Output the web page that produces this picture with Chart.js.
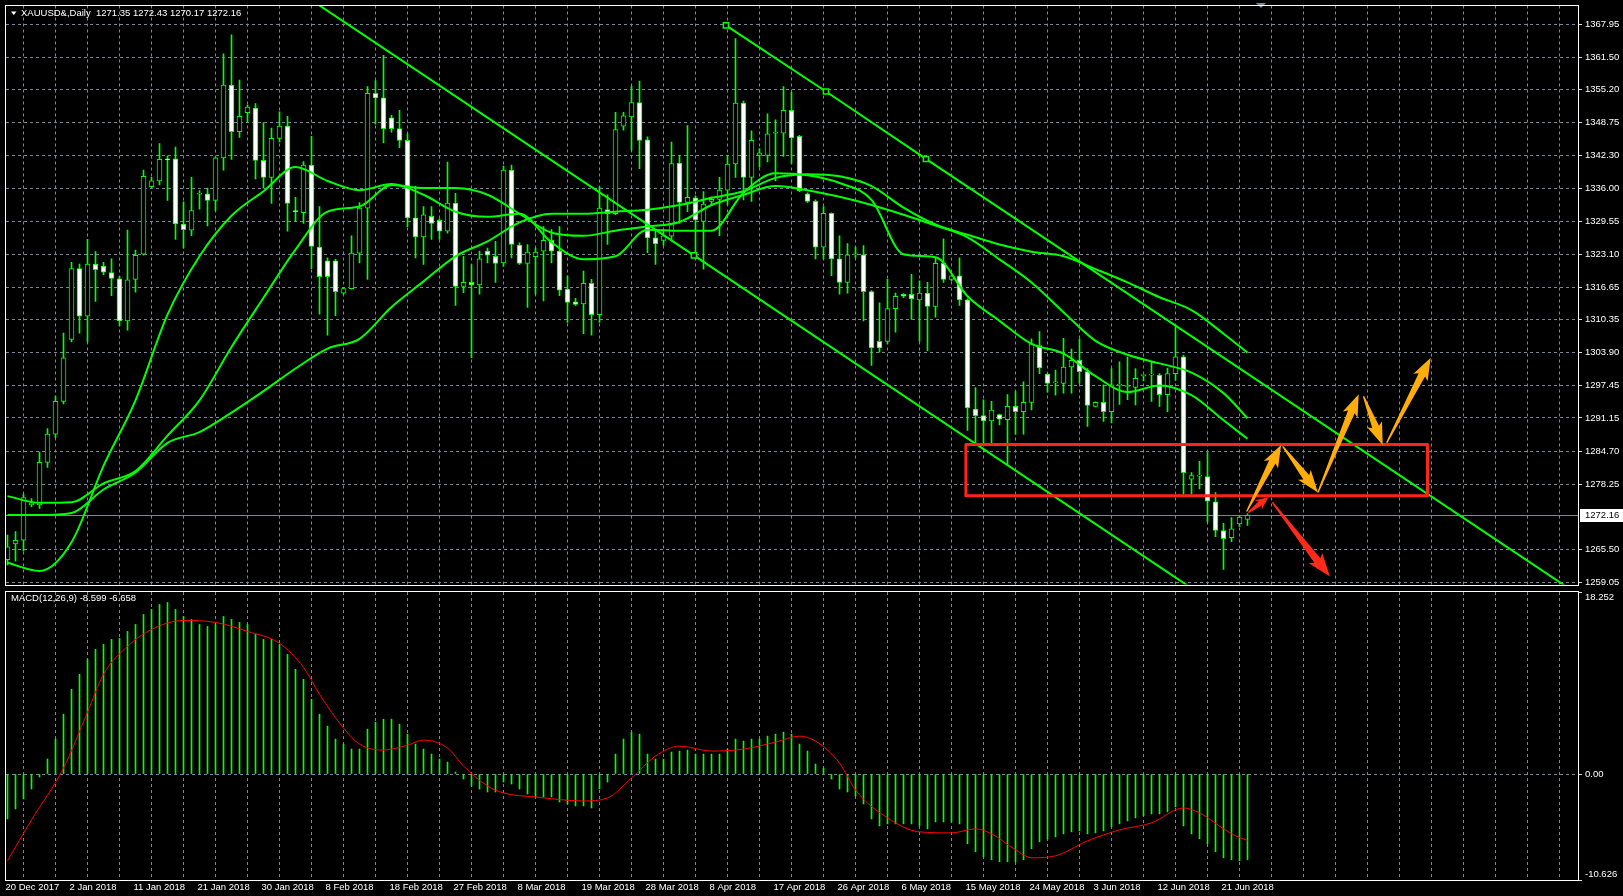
<!DOCTYPE html>
<html>
<head>
<meta charset="utf-8">
<title>XAUUSD&amp;,Daily</title>
<script src="https://cdn.jsdelivr.net/npm/chart.js@4.4.1/dist/chart.umd.min.js"></script>
<style>
  html, body { margin: 0; padding: 0; background: #000; }
  body { width: 1623px; height: 896px; position: relative; overflow: hidden; }
  canvas { position: absolute; left: 0; }
  #price-chart { top: 0; }
  #macd-chart { top: 590px; }
</style>
</head>
<body>
<canvas id="price-chart" width="1623" height="590"></canvas>
<canvas id="macd-chart" width="1623" height="306"></canvas>
<script>
const symbolTitle = "XAUUSD&,Daily";
const lastQuote = [1271.35, 1272.43, 1270.17, 1272.16];
const macdTitle = "MACD(12,26,9)";
const macdLast = [-8.599, -6.658];

// one label every 8 bars, starting at bar 0
const dateLabels = ["20 Dec 2017", "2 Jan 2018", "11 Jan 2018", "21 Jan 2018", "30 Jan 2018",
  "8 Feb 2018", "18 Feb 2018", "27 Feb 2018", "8 Mar 2018", "19 Mar 2018", "28 Mar 2018",
  "8 Apr 2018", "17 Apr 2018", "26 Apr 2018", "6 May 2018", "15 May 2018", "24 May 2018",
  "3 Jun 2018", "12 Jun 2018", "21 Jun 2018"];

const priceTicks = [1367.95, 1361.50, 1355.20, 1348.75, 1342.30, 1336.00, 1329.55, 1323.10,
  1316.65, 1310.35, 1303.90, 1297.45, 1291.15, 1284.70, 1278.25, 1265.50, 1259.05];
const macdTicks = [-10.626, 0, 18.252];

const opens = [1263.5, 1266.6, 1267.3, 1274.2, 1274.2, 1282.5, 1288.0, 1294.4, 1306.5, 1320.3,
  1311.0, 1321.2, 1320.8, 1319.5, 1318.3, 1310.1, 1318.2, 1323.1, 1336.3, 1337.4,
  1341.7, 1341.7, 1329.0, 1327.8, 1334.8, 1334.9, 1333.6, 1341.9, 1356.1, 1347.0,
  1350.7, 1351.6, 1341.4, 1338.1, 1345.7, 1348.1, 1331.5, 1331.2, 1340.5, 1324.5,
  1321.8, 1321.8, 1315.5, 1316.4, 1323.3, 1332.1, 1354.5, 1353.6, 1349.7, 1347.6,
  1345.3, 1330.2, 1326.5, 1330.5, 1329.7, 1327.6, 1333.1, 1316.8, 1317.6, 1317.1,
  1323.7, 1322.7, 1321.4, 1339.5, 1324.9, 1321.3, 1322.6, 1323.7, 1325.8, 1323.7,
  1316.3, 1313.8, 1313.4, 1317.4, 1311.3, 1331.8, 1331.0, 1348.1, 1349.9, 1352.7,
  1345.4, 1326.3, 1325.8, 1326.6, 1340.9, 1333.2, 1334.1, 1329.5, 1333.4, 1333.8,
  1335.6, 1340.7, 1352.6, 1338.1, 1342.4, 1342.4, 1346.7, 1346.7, 1351.2, 1346.1,
  1334.9, 1333.4, 1324.5, 1331.1, 1322.2, 1317.6, 1323.0, 1323.0, 1315.8, 1306.1,
  1306.1, 1312.5, 1315.3, 1315.3, 1314.2, 1315.5, 1312.9, 1321.3, 1318.2, 1318.9,
  1314.2, 1292.9, 1291.6, 1290.6, 1291.8, 1290.8, 1293.4, 1292.4, 1294.2, 1305.3,
  1299.7, 1298.0, 1297.9, 1301.1, 1302.4, 1300.2, 1293.4, 1294.2, 1292.4, 1297.5,
  1297.3, 1297.1, 1299.4, 1299.5, 1299.5, 1295.7, 1299.8, 1303.1, 1279.2, 1279.8,
  1279.7, 1274.8, 1269.2, 1267.8, 1270.5, 1271.35];
const highs = [1268.3, 1269.0, 1276.3, 1275.4, 1284.5, 1289.1, 1295.4, 1307.7, 1321.5, 1321.2,
  1326.0, 1323.6, 1321.5, 1322.2, 1318.8, 1327.8, 1323.9, 1339.5, 1338.1, 1344.7,
  1342.3, 1344.0, 1333.3, 1338.1, 1335.5, 1336.0, 1342.1, 1362.2, 1365.9, 1357.1,
  1352.2, 1352.5, 1348.8, 1347.7, 1350.9, 1350.0, 1334.2, 1341.2, 1346.1, 1332.4,
  1322.4, 1322.1, 1316.6, 1326.7, 1333.2, 1355.8, 1357.0, 1361.9, 1350.2, 1351.2,
  1346.6, 1336.4, 1332.4, 1332.4, 1330.0, 1341.1, 1335.0, 1322.7, 1321.1, 1323.7,
  1324.3, 1325.6, 1340.3, 1340.5, 1325.3, 1325.0, 1324.3, 1328.5, 1327.9, 1328.5,
  1318.9, 1314.5, 1319.8, 1318.2, 1336.3, 1334.7, 1350.8, 1350.8, 1355.9, 1356.9,
  1346.0, 1327.9, 1327.9, 1345.0, 1342.4, 1348.2, 1334.5, 1335.3, 1334.3, 1338.1,
  1342.4, 1365.2, 1353.0, 1347.2, 1343.7, 1350.5, 1349.3, 1355.8, 1354.7, 1346.3,
  1335.1, 1333.7, 1332.4, 1331.2, 1326.7, 1325.2, 1324.5, 1324.8, 1316.0, 1313.6,
  1318.2, 1315.5, 1315.4, 1319.2, 1317.9, 1317.6, 1322.4, 1326.1, 1319.0, 1322.4,
  1314.4, 1297.1, 1294.7, 1294.4, 1291.9, 1295.7, 1296.3, 1298.2, 1306.6, 1308.0,
  1299.8, 1300.5, 1306.7, 1304.6, 1306.6, 1300.8, 1294.3, 1297.6, 1300.8, 1302.1,
  1303.1, 1300.8, 1299.5, 1302.0, 1299.8, 1300.9, 1309.2, 1303.4, 1280.5, 1282.7,
  1284.4, 1276.6, 1270.6, 1271.7, 1272.1, 1272.43];
const lows = [1262.5, 1263.2, 1265.2, 1273.8, 1273.5, 1281.5, 1287.3, 1293.9, 1306.0, 1307.7,
  1306.0, 1313.9, 1319.1, 1315.0, 1309.1, 1308.3, 1315.7, 1322.9, 1336.2, 1336.6,
  1333.6, 1326.0, 1324.3, 1326.7, 1331.9, 1328.6, 1331.6, 1339.5, 1341.6, 1345.9,
  1348.8, 1337.8, 1336.0, 1333.0, 1345.0, 1327.6, 1329.5, 1329.1, 1320.3, 1311.4,
  1307.3, 1311.1, 1315.3, 1316.3, 1321.4, 1318.2, 1348.5, 1344.8, 1346.9, 1343.9,
  1328.5, 1322.4, 1321.1, 1326.0, 1326.0, 1327.2, 1313.1, 1315.6, 1302.9, 1315.3,
  1321.4, 1317.6, 1320.7, 1322.4, 1321.1, 1312.7, 1315.3, 1314.0, 1321.4, 1315.0,
  1309.8, 1313.1, 1307.6, 1307.3, 1309.8, 1325.0, 1330.8, 1347.3, 1343.4, 1339.8,
  1323.4, 1321.1, 1324.8, 1326.0, 1329.1, 1331.4, 1322.7, 1320.2, 1332.7, 1326.7,
  1332.7, 1338.1, 1333.7, 1333.4, 1340.1, 1341.1, 1337.4, 1342.2, 1340.8, 1335.3,
  1333.2, 1322.2, 1322.2, 1318.9, 1315.3, 1315.5, 1322.4, 1310.1, 1301.4, 1304.0,
  1305.6, 1307.9, 1314.6, 1310.4, 1306.1, 1304.3, 1310.8, 1317.6, 1317.9, 1313.1,
  1288.7, 1286.3, 1286.3, 1286.3, 1289.8, 1282.1, 1288.0, 1288.0, 1292.7, 1299.8,
  1296.2, 1295.6, 1296.0, 1296.0, 1297.9, 1289.5, 1293.3, 1290.5, 1290.2, 1293.8,
  1294.7, 1293.7, 1298.4, 1294.4, 1293.4, 1292.4, 1298.5, 1276.3, 1276.3, 1277.3,
  1270.8, 1268.0, 1261.6, 1267.0, 1270.0, 1270.17];
const closes = [1266.0, 1267.3, 1275.6, 1274.6, 1282.5, 1288.0, 1294.4, 1302.9, 1320.3, 1311.0,
  1321.2, 1320.1, 1319.6, 1318.4, 1310.1, 1318.1, 1322.9, 1338.3, 1337.4, 1341.6,
  1341.5, 1329.0, 1327.9, 1331.6, 1335.0, 1333.6, 1341.9, 1356.1, 1347.0, 1350.0,
  1351.8, 1341.4, 1338.1, 1345.7, 1348.1, 1333.0, 1331.4, 1340.5, 1324.6, 1318.7,
  1318.7, 1315.8, 1316.4, 1323.3, 1332.1, 1354.5, 1353.6, 1347.6, 1347.6, 1345.3,
  1330.2, 1326.5, 1330.8, 1329.1, 1327.6, 1333.1, 1316.8, 1317.6, 1317.1, 1322.2,
  1322.9, 1321.3, 1339.5, 1325.0, 1321.3, 1323.5, 1323.5, 1325.8, 1323.7, 1316.1,
  1313.7, 1313.3, 1317.4, 1311.3, 1332.1, 1331.0, 1347.4, 1350.1, 1352.7, 1345.3,
  1326.3, 1325.1, 1326.7, 1340.8, 1333.2, 1334.2, 1329.8, 1332.9, 1333.8, 1335.6,
  1340.7, 1352.6, 1338.1, 1345.3, 1342.9, 1346.6, 1346.8, 1351.2, 1345.8, 1335.5,
  1333.4, 1324.5, 1331.1, 1322.2, 1317.6, 1323.0, 1323.1, 1315.8, 1304.8, 1304.8,
  1312.5, 1314.9, 1314.9, 1314.4, 1315.5, 1312.9, 1321.3, 1318.2, 1318.9, 1314.2,
  1293.1, 1291.6, 1290.6, 1292.7, 1290.9, 1293.4, 1292.4, 1294.2, 1305.6, 1300.9,
  1297.9, 1298.2, 1301.1, 1302.4, 1300.2, 1293.6, 1294.2, 1292.4, 1297.6, 1297.6,
  1297.4, 1298.9, 1299.5, 1299.6, 1295.7, 1299.8, 1303.1, 1280.5, 1279.9, 1279.8,
  1274.9, 1269.2, 1267.6, 1269.5, 1271.8, 1272.16];

// moving averages, read at every 4th bar
const maIndex = [0, 4, 8, 12, 16, 20, 24, 28, 32, 36, 40, 44, 48, 52, 56, 60, 64, 68, 72, 76,
  80, 84, 88, 92, 96, 100, 104, 108, 112, 116, 120, 124, 128, 132, 136, 140, 144, 148, 152, 155];
const maFast = [1262.9, 1261.3, 1266.9, 1281.8, 1294.6, 1311.3, 1322.7, 1330.6, 1335.4, 1340.1,
  1337.4, 1335.6, 1336.8, 1334.7, 1331.4, 1330.4, 1331.0, 1325.4, 1322.1, 1322.7,
  1327.9, 1327.7, 1327.7, 1335.1, 1338.9, 1338.5, 1337.0, 1333.7, 1323.1, 1322.5,
  1314.9, 1310.1, 1305.6, 1303.7, 1299.3, 1296.2, 1297.5, 1295.6, 1290.7, 1287.1];
const maMid = [1275.9, 1274.6, 1274.7, 1278.4, 1280.8, 1287.7, 1294.6, 1305.0, 1314.6, 1324.0,
  1331.4, 1332.4, 1336.6, 1336.0, 1336.0, 1334.7, 1331.0, 1327.3, 1326.7, 1327.7,
  1328.5, 1329.4, 1332.7, 1334.7, 1336.4, 1335.6, 1334.3, 1332.7, 1330.8, 1328.7,
  1326.4, 1322.1, 1317.6, 1311.8, 1306.2, 1303.5, 1301.8, 1300.0, 1296.0, 1291.1];
const maSlow = [1272.2, 1272.2, 1272.6, 1277.2, 1280.5, 1286.3, 1288.4, 1292.2, 1296.4, 1300.8,
  1304.7, 1306.6, 1312.8, 1317.8, 1322.7, 1325.6, 1329.3, 1331.0, 1331.0, 1331.4,
  1331.8, 1332.7, 1334.1, 1335.4, 1338.0, 1338.7, 1338.3, 1336.4, 1332.2, 1328.9,
  1326.9, 1325.0, 1323.6, 1322.7, 1320.2, 1317.6, 1314.7, 1312.2, 1307.6, 1303.9];

const macdMain = [-4.5, -3.5, -2.5, -1.5, -0.3, 1.5, 3.5, 6.0, 8.5, 10.0,
  11.5, 12.5, 13.0, 13.5, 13.6, 14.3, 15.0, 16.0, 16.5, 17.0,
  17.2, 16.5, 15.8, 15.5, 15.0, 14.8, 15.0, 15.8, 15.5, 15.2,
  15.0, 14.0, 13.5, 13.5, 13.0, 12.0, 10.5, 9.5, 7.5, 6.0,
  4.8, 3.5, 3.0, 2.5, 2.5, 4.5, 5.2, 5.5, 5.5, 5.0,
  4.0, 3.0, 2.5, 2.0, 1.5, 1.2, 0.2, -0.5, -1.2, -1.5,
  -1.8, -1.8, -0.8, -1.0, -1.5, -2.0, -2.3, -2.3, -2.3, -2.8,
  -3.0, -3.2, -3.2, -3.4, -1.5, -0.8, 2.0, 3.5, 4.2, 4.0,
  2.0, 1.5, 1.5, 2.2, 2.3, 2.4, 2.0, 2.0, 2.0, 2.0,
  2.5, 3.5, 3.3, 3.5, 3.5, 3.8, 4.0, 4.2, 4.0, 3.0,
  2.3, 1.0, 0.6, -0.5, -1.5, -1.8, -2.2, -3.0, -4.5, -5.2,
  -5.0, -5.0, -5.0, -5.0, -5.2, -5.5, -4.8, -4.8, -4.8, -5.0,
  -7.0, -7.8, -8.3, -8.6, -8.8, -8.8, -8.8, -8.6, -7.5, -6.8,
  -6.5, -6.3, -6.0, -5.8, -5.7, -6.0, -5.9, -5.7, -5.3, -5.0,
  -4.7, -4.4, -4.2, -4.0, -4.0, -3.8, -3.3, -5.2, -6.0, -6.5,
  -7.0, -7.8, -8.4, -8.6, -8.7, -8.599];
const signalIndex = [0, 3, 7, 10, 12, 15, 18, 22, 26, 30, 34, 37, 39, 42, 44, 47, 50, 52, 55, 57,
  60, 62, 66, 72, 75, 78, 81, 84, 88, 92, 96, 99, 101, 104, 106, 110, 114, 118, 121, 123,
  126, 128, 131, 135, 139, 143, 147, 149, 153, 155];
const signalValues = [-8.7, -4.6, 0.6, 6.2, 10.0, 12.8, 14.5, 15.4, 15.2, 14.3, 13.1, 10.7, 8.0, 4.6, 3.0,
  2.4, 2.9, 3.4, 2.6, 0.8, -1.2, -1.9, -2.3, -2.7, -2.4, -0.4, 1.8, 2.8, 2.3, 2.5,
  3.2, 3.8, 3.3, 1.1, -1.6, -4.4, -5.8, -5.9, -5.5, -6.0, -7.6, -8.4, -8.2, -6.7, -5.6,
  -4.9, -3.4, -3.9, -6.0, -6.658];

// drawn objects, in [bar, price]
const upperChannel = [[89.8, 1367.76], [102.3, 1354.85], [114.8, 1341.69], [197, 1256.0]];
const upperMarkers = [1, 1, 1, 0];
const lowerChannel = [[35, 1375.8], [85.8, 1322.87], [150, 1255.85]];
const lowerMarkers = [0, 1, 0];
const targetBox = [119.8, 177.5, 1275.98, 1285.96];
const orangeArrows = [[154.9, 1272.9, 159.2, 1285.9], [159.4, 1285.6, 163.8, 1276.6],
  [163.8, 1276.6, 168.9, 1295.8], [169.5, 1295.4, 171.9, 1285.9], [172.4, 1286.3, 177.9, 1302.9]];
const redArrows = [[155.1, 1272.7, 157.6, 1275.7], [158.1, 1274.7, 165.3, 1260.2]];

const GREEN = "#00ff00";
const GRID = "#778899";
const TEXT = "#ffffff";
const FAMILY = "'Liberation Sans', Arial, sans-serif";
const FONT = { family: FAMILY, size: 9.5 };

const X_MIN = -0.1875, X_MAX = 196.3125;

const xAxis = (showLabels) => ({
  type: "linear", min: X_MIN, max: X_MAX, offset: false, bounds: "data",
  afterBuildTicks: (s) => {
    s.ticks = [];
    for (let v = 0; v <= 196; v += 4) s.ticks.push({ value: v });
  },
  grid: { color: GRID, lineWidth: 1, drawTicks: false },
  border: { display: false, dash: [3, 3] },
  ticks: {
    display: showLabels, autoSkip: false, maxRotation: 0, minRotation: 0,
    align: "start", labelOffset: -2, padding: 2, color: TEXT, font: FONT,
    callback: (v) => (v % 8 === 0 && dateLabels[v / 8]) ? dateLabels[v / 8] : "",
  },
  afterFit: (s) => { s.height = showLabels ? 16 : 0; s.paddingLeft = 0; s.paddingRight = 0; },
});

const yAxis = (min, max, ticks, labelFn, gridColor) => ({
  position: "right", min, max, bounds: "data",
  afterBuildTicks: (s) => { s.ticks = ticks.map((v) => ({ value: v })); },
  grid: { color: gridColor, lineWidth: 1, drawTicks: true, tickLength: 4, tickColor: "#dddddd" },
  border: { display: false, dash: [3, 3] },
  ticks: { color: TEXT, font: FONT, padding: 3, callback: labelFn },
  afterFit: (s) => { s.width = 45; s.paddingTop = 0; s.paddingBottom = 0; },
});

const toPoints = (idx, vals) => idx.map((x, k) => ({ x, y: vals[k] }));
const pairPoints = (list) => list.map(([x, y]) => ({ x, y }));

// spear shaped arrow like the hand drawn ones on the chart
const drawArrow = (ctx, x0, y0, x1, y1, color, size) => {
  const dx = x1 - x0, dy = y1 - y0;
  const len = Math.hypot(dx, dy);
  const ux = dx / len, uy = dy / len;
  const nx = -uy, ny = ux;
  const headLen = Math.min(size * 2.4, len * 0.4);
  const bx = x1 - ux * headLen, by = y1 - uy * headLen;
  const tail = 0.7, neck = size * 0.45, head = size;
  ctx.beginPath();
  ctx.moveTo(x0 + nx * tail, y0 + ny * tail);
  ctx.lineTo(bx + nx * neck, by + ny * neck);
  ctx.lineTo(bx - ux * 3 + nx * head, by - uy * 3 + ny * head);
  ctx.lineTo(x1, y1);
  ctx.lineTo(bx - ux * 3 - nx * head, by - uy * 3 - ny * head);
  ctx.lineTo(bx - nx * neck, by - ny * neck);
  ctx.lineTo(x0 - nx * tail, y0 - ny * tail);
  ctx.closePath();
  ctx.fillStyle = color;
  ctx.fill();
};

const framePlugin = {
  id: "frame",
  afterDraw(chart) {
    const { ctx, chartArea: a } = chart;
    ctx.save();
    ctx.strokeStyle = "#ffffff";
    ctx.lineWidth = 1;
    ctx.strokeRect(Math.round(a.left) - 0.5, Math.round(a.top) - 0.5,
      Math.round(a.right - a.left) + 1, Math.round(a.bottom - a.top) + 1);
    ctx.restore();
  },
};

const pricePlugin = {
  id: "priceExtras",
  beforeDatasetsDraw(chart) {
    const { ctx, chartArea: a, scales } = chart;
    const y = Math.round(scales.y.getPixelForValue(lastQuote[3])) + 0.5;
    ctx.save();
    ctx.strokeStyle = GRID;
    ctx.lineWidth = 1;
    ctx.beginPath();
    ctx.moveTo(a.left, y);
    ctx.lineTo(a.right, y);
    ctx.stroke();
    ctx.restore();
  },
  afterDatasetsDraw(chart) {
    const { ctx, chartArea: a, scales } = chart;
    const px = (i) => scales.x.getPixelForValue(i);
    const py = (p) => scales.y.getPixelForValue(p);
    ctx.save();
    ctx.beginPath();
    ctx.rect(a.left, a.top, a.right - a.left, a.bottom - a.top);
    ctx.clip();
    // target zone
    ctx.strokeStyle = "#ff2318";
    ctx.lineWidth = 3;
    ctx.lineJoin = "round";
    const [b0, b1, p0, p1] = targetBox;
    ctx.strokeRect(px(b0), py(p1), px(b1) - px(b0), py(p0) - py(p1));
    redArrows.forEach(([i0, v0, i1, v1], k) =>
      drawArrow(ctx, px(i0), py(v0), px(i1), py(v1), "#ff2a1a", k === 0 ? 6 : 8.5));
    orangeArrows.forEach(([i0, v0, i1, v1]) =>
      drawArrow(ctx, px(i0), py(v0), px(i1), py(v1), "#ffad0a", 8));
    ctx.restore();
  },
  afterDraw(chart) {
    const { ctx, chartArea: a, scales } = chart;
    ctx.save();
    ctx.font = `9.5px ${FAMILY}`;
    ctx.textBaseline = "middle";
    // header
    ctx.fillStyle = TEXT;
    ctx.beginPath();
    ctx.moveTo(11, 11.5); ctx.lineTo(16.5, 11.5); ctx.lineTo(13.75, 15);
    ctx.closePath(); ctx.fill();
    ctx.fillText(symbolTitle + "  " + lastQuote.map((v) => v.toFixed(2)).join(" "), 21, 13);
    // chart shift marker
    ctx.fillStyle = GRID;
    ctx.beginPath();
    ctx.moveTo(1256, 3); ctx.lineTo(1266, 3); ctx.lineTo(1261, 8);
    ctx.closePath(); ctx.fill();
    // last price label on the axis
    const y = Math.round(scales.y.getPixelForValue(lastQuote[3]));
    ctx.fillStyle = "#ffffff";
    ctx.fillRect(a.right + 2, y - 6, 1623 - a.right - 2, 13);
    ctx.fillStyle = "#000000";
    ctx.fillText(lastQuote[3].toFixed(2), a.right + 7, y + 0.5);
    ctx.restore();
  },
};

const macdPlugin = {
  id: "macdTitle",
  afterDraw(chart) {
    const { ctx } = chart;
    ctx.save();
    ctx.font = `9.5px ${FAMILY}`;
    ctx.textBaseline = "middle";
    ctx.fillStyle = TEXT;
    ctx.fillText(macdTitle + " " + macdLast.map((v) => v.toFixed(3)).join(" "), 11, 8);
    ctx.restore();
  },
};

const baseOptions = {
  responsive: false,
  animation: false,
  devicePixelRatio: 1,
  events: [],
  plugins: { legend: { display: false }, tooltip: { enabled: false } },
};

const lineSet = (data, extra) => Object.assign({
  type: "line", data, borderColor: GREEN, borderWidth: 2, pointRadius: 0,
  tension: 0, order: 0,
}, extra);

const maSet = (vals) => lineSet(toPoints(maIndex, vals), { cubicInterpolationMode: "monotone" });

new Chart(document.getElementById("price-chart"), {
  type: "bar",
  data: {
    datasets: [
      maSet(maFast),
      maSet(maMid),
      maSet(maSlow),
      lineSet(pairPoints(upperChannel), {
        pointRadius: upperMarkers.map((m) => m * 3.6), pointStyle: "rect",
        pointBackgroundColor: "#000", pointBorderColor: GREEN, pointBorderWidth: 1.5,
      }),
      lineSet(pairPoints(lowerChannel), {
        pointRadius: lowerMarkers.map((m) => m * 3.6), pointStyle: "rect",
        pointBackgroundColor: "#000", pointBorderColor: GREEN, pointBorderWidth: 1.5,
      }),
      {
        type: "bar",
        data: opens.map((o, i) => ({ x: i, y: [Math.min(o, closes[i]), Math.max(o, closes[i])] })),
        backgroundColor: opens.map((o, i) => (closes[i] >= o ? "#000000" : "#ffffff")),
        borderColor: GREEN, borderWidth: 1, borderSkipped: false,
        barThickness: 5, minBarLength: 1, grouped: false, order: 1,
      },
      {
        type: "bar",
        data: lows.map((l, i) => ({ x: i, y: [l, highs[i]] })),
        backgroundColor: GREEN, borderWidth: 0,
        barThickness: 1, grouped: false, order: 2,
      },
    ],
  },
  options: Object.assign({}, baseOptions, {
    layout: { padding: { left: 6, top: 4, right: 0, bottom: 2 } },
    scales: {
      x: xAxis(false),
      y: yAxis(1258.66, 1371.63, priceTicks, (v) => v.toFixed(2), GRID),
    },
  }),
  plugins: [pricePlugin, framePlugin],
});

new Chart(document.getElementById("macd-chart"), {
  type: "bar",
  data: {
    datasets: [
      {
        type: "line", data: toPoints(signalIndex, signalValues),
        borderColor: "#ff0000", borderWidth: 1, pointRadius: 0,
        cubicInterpolationMode: "monotone", order: 0,
      },
      {
        type: "bar", data: macdMain.map((v, i) => ({ x: i, y: v })),
        backgroundColor: GREEN, barThickness: 1, grouped: false, order: 1,
      },
    ],
  },
  options: Object.assign({}, baseOptions, {
    layout: { padding: { left: 6, top: 2, right: 0, bottom: 0 } },
    scales: {
      x: xAxis(true),
      y: yAxis(-10.626, 18.252, macdTicks, (v) => {
        if (v === 18.252) return ["", "18.252"];
        if (v === -10.626) return ["-10.626", ""];
        return "0.00";
      }, (c) => (c.tick && c.tick.value === 0 ? GRID : "rgba(0,0,0,0)")),
    },
  }),
  plugins: [macdPlugin, framePlugin],
});
</script>
</body>
</html>
